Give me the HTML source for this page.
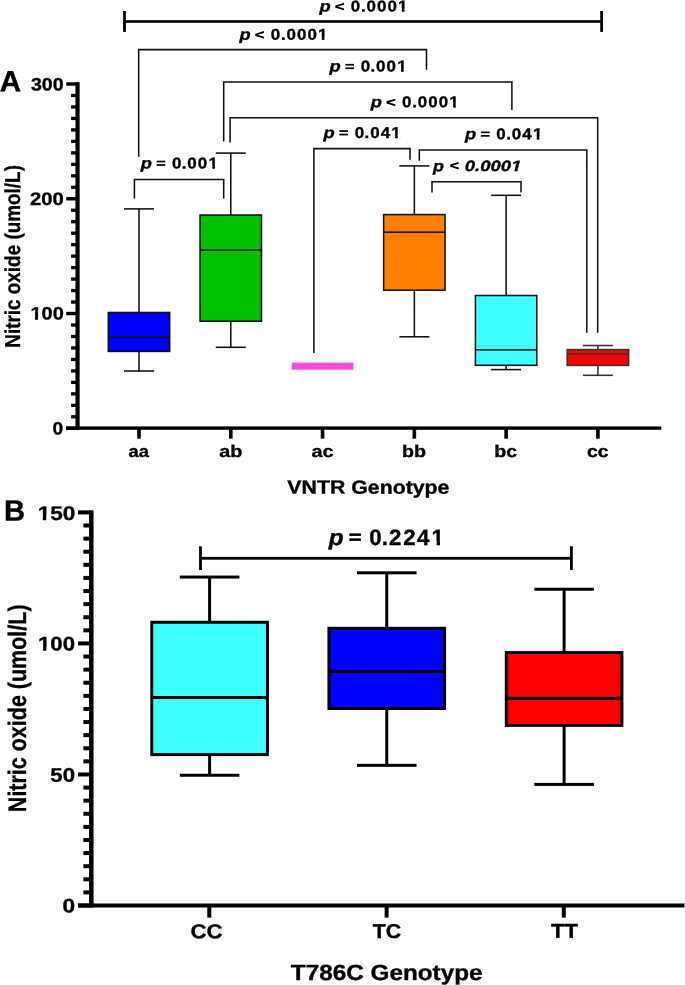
<!DOCTYPE html>
<html><head><meta charset="utf-8"><style>
html,body{margin:0;padding:0;background:#fff;}
svg{display:block;will-change:transform;font-family:"Liberation Sans",sans-serif;font-weight:bold;font-kerning:none;}
text{font-kerning:none;text-rendering:geometricPrecision;stroke:#000;stroke-width:0.35px;stroke-linejoin:round;}
</style></head><body>
<svg width="685" height="985" viewBox="0 0 685 985">
<rect width="685" height="985" fill="#fff"/>
<rect x="75.45" y="82.20" width="4.20" height="347.80" fill="#000"/>
<rect x="66.20" y="426.60" width="11.35" height="3.40" fill="#000"/>
<rect x="71.10" y="415.17" width="6.45" height="3.30" fill="#000"/>
<rect x="71.10" y="403.70" width="6.45" height="3.30" fill="#000"/>
<rect x="71.10" y="392.22" width="6.45" height="3.30" fill="#000"/>
<rect x="71.10" y="380.74" width="6.45" height="3.30" fill="#000"/>
<rect x="71.10" y="369.27" width="6.45" height="3.30" fill="#000"/>
<rect x="71.10" y="357.79" width="6.45" height="3.30" fill="#000"/>
<rect x="71.10" y="346.31" width="6.45" height="3.30" fill="#000"/>
<rect x="71.10" y="334.84" width="6.45" height="3.30" fill="#000"/>
<rect x="71.10" y="323.36" width="6.45" height="3.30" fill="#000"/>
<rect x="66.20" y="311.83" width="11.35" height="3.40" fill="#000"/>
<rect x="71.10" y="300.41" width="6.45" height="3.30" fill="#000"/>
<rect x="71.10" y="288.93" width="6.45" height="3.30" fill="#000"/>
<rect x="71.10" y="277.45" width="6.45" height="3.30" fill="#000"/>
<rect x="71.10" y="265.98" width="6.45" height="3.30" fill="#000"/>
<rect x="71.10" y="254.50" width="6.45" height="3.30" fill="#000"/>
<rect x="71.10" y="243.02" width="6.45" height="3.30" fill="#000"/>
<rect x="71.10" y="231.55" width="6.45" height="3.30" fill="#000"/>
<rect x="71.10" y="220.07" width="6.45" height="3.30" fill="#000"/>
<rect x="71.10" y="208.59" width="6.45" height="3.30" fill="#000"/>
<rect x="66.20" y="197.07" width="11.35" height="3.40" fill="#000"/>
<rect x="71.10" y="185.64" width="6.45" height="3.30" fill="#000"/>
<rect x="71.10" y="174.16" width="6.45" height="3.30" fill="#000"/>
<rect x="71.10" y="162.69" width="6.45" height="3.30" fill="#000"/>
<rect x="71.10" y="151.21" width="6.45" height="3.30" fill="#000"/>
<rect x="71.10" y="139.73" width="6.45" height="3.30" fill="#000"/>
<rect x="71.10" y="128.26" width="6.45" height="3.30" fill="#000"/>
<rect x="71.10" y="116.78" width="6.45" height="3.30" fill="#000"/>
<rect x="71.10" y="105.30" width="6.45" height="3.30" fill="#000"/>
<rect x="71.10" y="93.83" width="6.45" height="3.30" fill="#000"/>
<rect x="66.20" y="82.30" width="11.35" height="3.40" fill="#000"/>
<rect x="66.20" y="426.40" width="595.10" height="3.40" fill="#000"/>
<rect x="137.20" y="428.30" width="3.60" height="10.40" fill="#000"/>
<rect x="228.98" y="428.30" width="3.60" height="10.40" fill="#000"/>
<rect x="320.76" y="428.30" width="3.60" height="10.40" fill="#000"/>
<rect x="412.54" y="428.30" width="3.60" height="10.40" fill="#000"/>
<rect x="504.32" y="428.30" width="3.60" height="10.40" fill="#000"/>
<rect x="596.10" y="428.30" width="3.60" height="10.40" fill="#000"/>
<rect x="138.22" y="208.90" width="1.55" height="103.60" fill="#111"/>
<rect x="138.22" y="351.40" width="1.55" height="19.60" fill="#111"/>
<rect x="124.00" y="208.12" width="30.00" height="1.55" fill="#111"/>
<rect x="124.00" y="370.23" width="30.00" height="1.55" fill="#111"/>
<rect x="108.30" y="312.50" width="61.40" height="38.90" fill="#0000ff" stroke="#111" stroke-width="1.55"/>
<rect x="108.30" y="336.62" width="61.40" height="1.55" fill="#111"/>
<rect x="230.00" y="153.10" width="1.55" height="61.90" fill="#111"/>
<rect x="230.00" y="321.20" width="1.55" height="26.10" fill="#111"/>
<rect x="215.78" y="152.32" width="30.00" height="1.55" fill="#111"/>
<rect x="215.78" y="346.53" width="30.00" height="1.55" fill="#111"/>
<rect x="200.08" y="215.00" width="61.40" height="106.20" fill="#00c000" stroke="#111" stroke-width="1.55"/>
<rect x="200.08" y="249.32" width="61.40" height="1.55" fill="#111"/>
<rect x="291.71" y="362.70" width="61.70" height="7.00" fill="#f54cdc"/>
<rect x="413.57" y="165.90" width="1.55" height="48.70" fill="#111"/>
<rect x="413.57" y="290.20" width="1.55" height="46.60" fill="#111"/>
<rect x="399.34" y="165.12" width="30.00" height="1.55" fill="#111"/>
<rect x="399.34" y="336.03" width="30.00" height="1.55" fill="#111"/>
<rect x="383.64" y="214.60" width="61.40" height="75.60" fill="#ff8000" stroke="#111" stroke-width="1.55"/>
<rect x="383.64" y="231.42" width="61.40" height="1.55" fill="#111"/>
<rect x="505.35" y="195.30" width="1.55" height="100.20" fill="#111"/>
<rect x="505.35" y="365.30" width="1.55" height="4.30" fill="#111"/>
<rect x="491.12" y="194.53" width="30.00" height="1.55" fill="#111"/>
<rect x="491.12" y="368.83" width="30.00" height="1.55" fill="#111"/>
<rect x="475.42" y="295.50" width="61.40" height="69.80" fill="#40ffff" stroke="#111" stroke-width="1.55"/>
<rect x="475.42" y="349.03" width="61.40" height="1.55" fill="#111"/>
<rect x="597.12" y="345.50" width="1.55" height="4.10" fill="#333"/>
<rect x="597.12" y="365.40" width="1.55" height="9.90" fill="#333"/>
<rect x="582.90" y="344.73" width="30.00" height="1.55" fill="#333"/>
<rect x="582.90" y="374.53" width="30.00" height="1.55" fill="#333"/>
<rect x="567.20" y="349.60" width="61.40" height="15.80" fill="#ff0000" stroke="#333" stroke-width="1.55"/>
<rect x="567.20" y="353.20" width="61.40" height="1.60" fill="#333"/>
<rect x="124.50" y="20.20" width="477.10" height="2.60" fill="#000"/>
<rect x="123.10" y="11.00" width="2.80" height="20.90" fill="#000"/>
<rect x="600.20" y="11.00" width="2.80" height="20.90" fill="#000"/>
<path d="M138.70,156.70 V49.60 H426.50 V69.70" fill="none" stroke="#111" stroke-width="1.55" stroke-linejoin="miter" stroke-linecap="butt"/>
<path d="M223.70,141.50 V81.90 H511.90 V110.10" fill="none" stroke="#111" stroke-width="1.55" stroke-linejoin="miter" stroke-linecap="butt"/>
<path d="M230.10,142.50 V117.80 H597.70 V332.70" fill="none" stroke="#111" stroke-width="1.55" stroke-linejoin="miter" stroke-linecap="butt"/>
<path d="M313.90,353.00 V148.60 H410.00 V159.80" fill="none" stroke="#111" stroke-width="1.55" stroke-linejoin="miter" stroke-linecap="butt"/>
<path d="M419.30,160.80 V150.00 H586.80 V332.70" fill="none" stroke="#111" stroke-width="1.55" stroke-linejoin="miter" stroke-linecap="butt"/>
<path d="M432.00,192.50 V181.70 H521.00 V192.50" fill="none" stroke="#111" stroke-width="1.55" stroke-linejoin="miter" stroke-linecap="butt"/>
<path d="M134.40,198.40 V179.40 H223.70 V198.40" fill="none" stroke="#111" stroke-width="1.55" stroke-linejoin="miter" stroke-linecap="butt"/>
<g transform="translate(319.000,11.500) skewY(0.03) scale(1.1664,1)"><text font-size="15.7" fill="#000"><tspan x="0.345" style="font-style:italic;font-weight:bold;">p</tspan></text></g>
<g transform="translate(351.300,11.500) skewY(0.03) scale(1.0800,1)"><text font-size="15.7" fill="#000"><tspan x="-0.621" style="font-weight:bold;">0</tspan><tspan x="9.027" style="font-weight:bold;">.</tspan><tspan x="14.009" style="font-weight:bold;">0</tspan><tspan x="23.731" style="font-weight:bold;">0</tspan><tspan x="33.453" style="font-weight:bold;">0</tspan><tspan x="43.279" style="font-weight:bold;">1</tspan></text><path d="M43.317,1.917 V-2.683 H46.763 V1.917Z M49.277,1.917 V-2.683 H52.095 V1.917Z" fill="#fff"/></g>
<path d="M335.30,5.45 L344.00,2.85 L344.00,4.70 L337.64,6.60 L344.00,8.50 L344.00,10.35 L335.30,7.75Z" fill="#000"/>
<g transform="translate(239.000,39.700) skewY(0.03) scale(1.1664,1)"><text font-size="15.7" fill="#000"><tspan x="0.345" style="font-style:italic;font-weight:bold;">p</tspan></text></g>
<g transform="translate(271.300,39.700) skewY(0.03) scale(1.0800,1)"><text font-size="15.7" fill="#000"><tspan x="-0.621" style="font-weight:bold;">0</tspan><tspan x="9.027" style="font-weight:bold;">.</tspan><tspan x="14.009" style="font-weight:bold;">0</tspan><tspan x="23.731" style="font-weight:bold;">0</tspan><tspan x="33.453" style="font-weight:bold;">0</tspan><tspan x="43.279" style="font-weight:bold;">1</tspan></text><path d="M43.317,1.917 V-2.683 H46.763 V1.917Z M49.277,1.917 V-2.683 H52.095 V1.917Z" fill="#fff"/></g>
<path d="M255.30,33.65 L264.00,31.05 L264.00,32.90 L257.64,34.80 L264.00,36.70 L264.00,38.55 L255.30,35.95Z" fill="#000"/>
<g transform="translate(329.000,71.600) skewY(0.03) scale(1.1664,1)"><text font-size="15.7" fill="#000"><tspan x="0.345" style="font-style:italic;font-weight:bold;">p</tspan></text></g>
<g transform="translate(361.300,71.600) skewY(0.03) scale(1.0800,1)"><text font-size="15.7" fill="#000"><tspan x="-0.621" style="font-weight:bold;">0</tspan><tspan x="8.471" style="font-weight:bold;">.</tspan><tspan x="13.638" style="font-weight:bold;">0</tspan><tspan x="23.361" style="font-weight:bold;">0</tspan><tspan x="33.279" style="font-weight:bold;">1</tspan></text><path d="M33.317,1.917 V-2.683 H36.763 V1.917Z M39.277,1.917 V-2.683 H42.095 V1.917Z" fill="#fff"/></g>
<rect x="345.30" y="63.90" width="8.70" height="1.70" fill="#000"/>
<rect x="345.30" y="67.40" width="8.70" height="1.70" fill="#000"/>
<g transform="translate(370.300,107.300) skewY(0.03) scale(1.1664,1)"><text font-size="15.7" fill="#000"><tspan x="0.345" style="font-style:italic;font-weight:bold;">p</tspan></text></g>
<g transform="translate(402.600,107.300) skewY(0.03) scale(1.0800,1)"><text font-size="15.7" fill="#000"><tspan x="-0.621" style="font-weight:bold;">0</tspan><tspan x="9.027" style="font-weight:bold;">.</tspan><tspan x="14.009" style="font-weight:bold;">0</tspan><tspan x="23.731" style="font-weight:bold;">0</tspan><tspan x="33.453" style="font-weight:bold;">0</tspan><tspan x="43.279" style="font-weight:bold;">1</tspan></text><path d="M43.317,1.917 V-2.683 H46.763 V1.917Z M49.277,1.917 V-2.683 H52.095 V1.917Z" fill="#fff"/></g>
<path d="M386.60,101.25 L395.30,98.65 L395.30,100.50 L388.94,102.40 L395.30,104.30 L395.30,106.15 L386.60,103.55Z" fill="#000"/>
<g transform="translate(323.000,137.900) skewY(0.03) scale(1.1664,1)"><text font-size="15.7" fill="#000"><tspan x="0.345" style="font-style:italic;font-weight:bold;">p</tspan></text></g>
<g transform="translate(355.300,137.900) skewY(0.03) scale(1.0800,1)"><text font-size="15.7" fill="#000"><tspan x="-0.621" style="font-weight:bold;">0</tspan><tspan x="8.564" style="font-weight:bold;">.</tspan><tspan x="13.823" style="font-weight:bold;">0</tspan><tspan x="23.559" style="font-weight:bold;">4</tspan><tspan x="33.371" style="font-weight:bold;">1</tspan></text><path d="M33.410,1.917 V-2.683 H36.856 V1.917Z M39.370,1.917 V-2.683 H42.187 V1.917Z" fill="#fff"/></g>
<rect x="339.30" y="130.20" width="8.70" height="1.70" fill="#000"/>
<rect x="339.30" y="133.70" width="8.70" height="1.70" fill="#000"/>
<g transform="translate(464.600,139.200) skewY(0.03) scale(1.1664,1)"><text font-size="15.7" fill="#000"><tspan x="0.345" style="font-style:italic;font-weight:bold;">p</tspan></text></g>
<g transform="translate(496.900,139.200) skewY(0.03) scale(1.0800,1)"><text font-size="15.7" fill="#000"><tspan x="-0.621" style="font-weight:bold;">0</tspan><tspan x="8.564" style="font-weight:bold;">.</tspan><tspan x="13.823" style="font-weight:bold;">0</tspan><tspan x="23.559" style="font-weight:bold;">4</tspan><tspan x="33.371" style="font-weight:bold;">1</tspan></text><path d="M33.410,1.917 V-2.683 H36.856 V1.917Z M39.370,1.917 V-2.683 H42.187 V1.917Z" fill="#fff"/></g>
<rect x="480.90" y="131.50" width="8.70" height="1.70" fill="#000"/>
<rect x="480.90" y="135.00" width="8.70" height="1.70" fill="#000"/>
<g transform="translate(140.300,168.400) skewY(0.03) scale(1.1664,1)"><text font-size="15.7" fill="#000"><tspan x="0.345" style="font-style:italic;font-weight:bold;">p</tspan></text></g>
<g transform="translate(172.600,168.400) skewY(0.03) scale(1.0800,1)"><text font-size="15.7" fill="#000"><tspan x="-0.621" style="font-weight:bold;">0</tspan><tspan x="8.471" style="font-weight:bold;">.</tspan><tspan x="13.638" style="font-weight:bold;">0</tspan><tspan x="23.361" style="font-weight:bold;">0</tspan><tspan x="33.279" style="font-weight:bold;">1</tspan></text><path d="M33.317,1.917 V-2.683 H36.763 V1.917Z M39.277,1.917 V-2.683 H42.095 V1.917Z" fill="#fff"/></g>
<rect x="156.60" y="160.70" width="8.70" height="1.70" fill="#000"/>
<rect x="156.60" y="164.20" width="8.70" height="1.70" fill="#000"/>
<g transform="translate(432.600,171.200) skewY(0.03) scale(1.1600,1)"><text font-size="15.5" fill="#000"><tspan x="0.341" style="font-style:italic;font-weight:bold;">p</tspan></text></g>
<path d="M450.20,164.55 L458.70,161.95 L458.70,163.80 L452.49,165.70 L458.70,167.60 L458.70,169.45 L450.20,166.85Z" fill="#000"/>
<g transform="translate(464.731,170.900) skewY(0.03) scale(1.2360,1)"><text font-size="15.0" fill="#000"><tspan x="0.000" style="font-style:italic;font-weight:bold;">0.0001</tspan></text><path d="M37.097,1.831 L37.646,-2.637 L40.528,-2.637 L40.001,1.831Z M42.477,1.831 L43.019,-2.637 L45.959,-2.637 L45.410,1.831Z" fill="#fff"/></g>
<g transform="translate(328.100,545.000) skewY(0.03) scale(1.0900,1)"><text font-size="22.3" fill="#000"><tspan x="0.490" style="font-style:italic;font-weight:bold;">p</tspan></text></g>
<g transform="translate(370.100,545.000) skewY(0.03) scale(1.0000,1)"><text font-size="22.3" fill="#000"><tspan x="-0.882" style="font-weight:bold;">0</tspan><tspan x="11.686" style="font-weight:bold;">.</tspan><tspan x="19.027" style="font-weight:bold;">2</tspan><tspan x="33.127" style="font-weight:bold;">2</tspan><tspan x="46.962" style="font-weight:bold;">4</tspan><tspan x="61.476" style="font-weight:bold;">1</tspan></text><path d="M61.530,2.722 V-3.811 H66.500 V2.722Z M69.920,2.722 V-3.811 H73.998 V2.722Z" fill="#fff"/></g>
<rect x="349.30" y="533.40" width="11.60" height="2.50" fill="#000"/>
<rect x="349.30" y="538.40" width="11.60" height="2.50" fill="#000"/>
<g transform="translate(-0.135,91.300) skewY(0.03) scale(1.0073,1)"><text font-size="29.3" fill="#000"><tspan x="0.000" style="font-weight:bold;">A</tspan></text></g>
<g transform="translate(30.951,90.500) skewY(0.03) scale(1.0872,1)"><text font-size="18" fill="#000"><tspan x="0.000" style="font-weight:bold;">300</tspan></text></g>
<g transform="translate(30.099,205.000) skewY(0.03) scale(1.1231,1)"><text font-size="18" fill="#000"><tspan x="0.000" style="font-weight:bold;">200</tspan></text></g>
<g transform="translate(30.432,319.600) skewY(0.03) scale(1.1118,1)"><text font-size="18" fill="#000"><tspan x="0.000" style="font-weight:bold;">100</tspan></text><path d="M0.044,2.197 V-3.076 H4.021 V2.197Z M6.851,2.197 V-3.076 H10.107 V2.197Z" fill="#fff"/></g>
<g transform="translate(52.543,434.500) skewY(0.03) scale(1.0630,1)"><text font-size="18" fill="#000"><tspan x="0.000" style="font-weight:bold;">0</tspan></text></g>
<g transform="translate(128.462,457.100) skewY(0.03) scale(1.0928,1)"><text font-size="16.8" fill="#000"><tspan x="0.000" style="font-weight:bold;">aa</tspan></text></g>
<g transform="translate(219.350,457.100) skewY(0.03) scale(1.1778,1)"><text font-size="16.8" fill="#000"><tspan x="0.000" style="font-weight:bold;">ab</tspan></text></g>
<g transform="translate(311.529,457.100) skewY(0.03) scale(1.1806,1)"><text font-size="16.8" fill="#000"><tspan x="0.000" style="font-weight:bold;">ac</tspan></text></g>
<g transform="translate(402.095,457.100) skewY(0.03) scale(1.1694,1)"><text font-size="16.8" fill="#000"><tspan x="0.000" style="font-weight:bold;">bb</tspan></text></g>
<g transform="translate(494.328,457.100) skewY(0.03) scale(1.1663,1)"><text font-size="16.8" fill="#000"><tspan x="0.000" style="font-weight:bold;">bc</tspan></text></g>
<g transform="translate(586.937,457.100) skewY(0.03) scale(1.1632,1)"><text font-size="16.8" fill="#000"><tspan x="0.000" style="font-weight:bold;">cc</tspan></text></g>
<g transform="translate(287.354,493.600) skewY(0.03) scale(1.1206,1)"><text font-size="19" fill="#000"><tspan x="0.000" style="font-weight:bold;">VNTR Genotype</tspan></text></g>
<text transform="translate(19.900,347.764) rotate(-90) skewY(0.03) scale(0.8791,1)" font-size="21.5" fill="#000"><tspan x="0.000" style="font-weight:bold;">Nitric oxide (umol/L)</tspan></text>
<rect x="89.05" y="510.40" width="4.50" height="397.10" fill="#000"/>
<rect x="78.00" y="903.50" width="13.30" height="4.00" fill="#000"/>
<rect x="83.40" y="890.40" width="7.90" height="4.00" fill="#000"/>
<rect x="83.40" y="877.29" width="7.90" height="4.00" fill="#000"/>
<rect x="83.40" y="864.19" width="7.90" height="4.00" fill="#000"/>
<rect x="83.40" y="851.09" width="7.90" height="4.00" fill="#000"/>
<rect x="83.40" y="837.98" width="7.90" height="4.00" fill="#000"/>
<rect x="83.40" y="824.88" width="7.90" height="4.00" fill="#000"/>
<rect x="83.40" y="811.78" width="7.90" height="4.00" fill="#000"/>
<rect x="83.40" y="798.67" width="7.90" height="4.00" fill="#000"/>
<rect x="83.40" y="785.57" width="7.90" height="4.00" fill="#000"/>
<rect x="78.00" y="772.47" width="13.30" height="4.00" fill="#000"/>
<rect x="83.40" y="759.36" width="7.90" height="4.00" fill="#000"/>
<rect x="83.40" y="746.26" width="7.90" height="4.00" fill="#000"/>
<rect x="83.40" y="733.16" width="7.90" height="4.00" fill="#000"/>
<rect x="83.40" y="720.05" width="7.90" height="4.00" fill="#000"/>
<rect x="83.40" y="706.95" width="7.90" height="4.00" fill="#000"/>
<rect x="83.40" y="693.85" width="7.90" height="4.00" fill="#000"/>
<rect x="83.40" y="680.74" width="7.90" height="4.00" fill="#000"/>
<rect x="83.40" y="667.64" width="7.90" height="4.00" fill="#000"/>
<rect x="83.40" y="654.54" width="7.90" height="4.00" fill="#000"/>
<rect x="78.00" y="641.43" width="13.30" height="4.00" fill="#000"/>
<rect x="83.40" y="628.33" width="7.90" height="4.00" fill="#000"/>
<rect x="83.40" y="615.23" width="7.90" height="4.00" fill="#000"/>
<rect x="83.40" y="602.12" width="7.90" height="4.00" fill="#000"/>
<rect x="83.40" y="589.02" width="7.90" height="4.00" fill="#000"/>
<rect x="83.40" y="575.92" width="7.90" height="4.00" fill="#000"/>
<rect x="83.40" y="562.81" width="7.90" height="4.00" fill="#000"/>
<rect x="83.40" y="549.71" width="7.90" height="4.00" fill="#000"/>
<rect x="83.40" y="536.61" width="7.90" height="4.00" fill="#000"/>
<rect x="83.40" y="523.50" width="7.90" height="4.00" fill="#000"/>
<rect x="78.00" y="510.40" width="13.30" height="4.00" fill="#000"/>
<rect x="78.00" y="903.50" width="606.50" height="4.00" fill="#000"/>
<rect x="207.30" y="905.50" width="4.00" height="12.10" fill="#000"/>
<rect x="384.60" y="905.50" width="4.00" height="12.10" fill="#000"/>
<rect x="561.80" y="905.50" width="4.00" height="12.10" fill="#000"/>
<rect x="208.10" y="577.05" width="3.00" height="45.20" fill="#000"/>
<rect x="208.10" y="754.60" width="3.00" height="20.65" fill="#000"/>
<rect x="179.80" y="575.55" width="59.60" height="3.00" fill="#000"/>
<rect x="179.80" y="773.75" width="59.60" height="3.00" fill="#000"/>
<rect x="151.80" y="622.25" width="115.60" height="132.35" fill="#40ffff" stroke="#000" stroke-width="3.0"/>
<rect x="151.80" y="696.00" width="115.60" height="3.00" fill="#000"/>
<rect x="385.25" y="572.80" width="3.00" height="55.50" fill="#000"/>
<rect x="385.25" y="708.50" width="3.00" height="56.85" fill="#000"/>
<rect x="356.95" y="571.30" width="59.60" height="3.00" fill="#000"/>
<rect x="356.95" y="763.85" width="59.60" height="3.00" fill="#000"/>
<rect x="328.95" y="628.30" width="115.60" height="80.20" fill="#0000ff" stroke="#000" stroke-width="3.0"/>
<rect x="328.95" y="670.10" width="115.60" height="3.00" fill="#000"/>
<rect x="562.60" y="589.25" width="3.00" height="63.35" fill="#000"/>
<rect x="562.60" y="725.40" width="3.00" height="59.00" fill="#000"/>
<rect x="534.30" y="587.75" width="59.60" height="3.00" fill="#000"/>
<rect x="534.30" y="782.90" width="59.60" height="3.00" fill="#000"/>
<rect x="506.30" y="652.60" width="115.60" height="72.80" fill="#ff0000" stroke="#000" stroke-width="3.0"/>
<rect x="506.30" y="696.85" width="115.60" height="3.00" fill="#000"/>
<rect x="200.50" y="556.90" width="370.90" height="2.80" fill="#000"/>
<rect x="199.10" y="546.30" width="2.80" height="23.70" fill="#000"/>
<rect x="570.00" y="546.30" width="2.80" height="23.70" fill="#000"/>
<g transform="translate(4.048,520.600) skewY(0.03) scale(0.9996,1)"><text font-size="29.2" fill="#000"><tspan x="0.000" style="font-weight:bold;">B</tspan></text></g>
<g transform="translate(37.652,520.000) skewY(0.03) scale(1.1435,1)"><text font-size="19.8" fill="#000"><tspan x="0.000" style="font-weight:bold;">150</tspan></text><path d="M0.048,2.417 V-3.384 H4.441 V2.417Z M7.518,2.417 V-3.384 H11.118 V2.417Z" fill="#fff"/></g>
<g transform="translate(37.983,650.600) skewY(0.03) scale(1.1208,1)"><text font-size="19.8" fill="#000"><tspan x="0.000" style="font-weight:bold;">100</tspan></text><path d="M0.048,2.417 V-3.384 H4.441 V2.417Z M7.518,2.417 V-3.384 H11.118 V2.417Z" fill="#fff"/></g>
<g transform="translate(50.317,781.700) skewY(0.03) scale(1.1212,1)"><text font-size="19.8" fill="#000"><tspan x="0.000" style="font-weight:bold;">50</tspan></text></g>
<g transform="translate(62.402,912.600) skewY(0.03) scale(1.1469,1)"><text font-size="19.8" fill="#000"><tspan x="0.000" style="font-weight:bold;">0</tspan></text></g>
<g transform="translate(190.488,938.200) skewY(0.03) scale(1.1119,1)"><text font-size="20" fill="#000"><tspan x="0.000" style="font-weight:bold;">CC</tspan></text></g>
<g transform="translate(372.760,938.000) skewY(0.03) scale(1.0700,1)"><text font-size="20" fill="#000"><tspan x="0.000" style="font-weight:bold;">TC</tspan></text></g>
<g transform="translate(551.052,937.800) skewY(0.03) scale(1.1044,1)"><text font-size="20" fill="#000"><tspan x="0.000" style="font-weight:bold;">TT</tspan></text></g>
<g transform="translate(290.827,979.900) skewY(0.03) scale(1.1043,1)"><text font-size="22" fill="#000"><tspan x="0.000" style="font-weight:bold;">T786C Genotype</tspan></text></g>
<text transform="translate(25.700,812.137) rotate(-90) skewY(0.03) scale(0.8493,1)" font-size="25.3" fill="#000"><tspan x="0.000" style="font-weight:bold;">Nitric oxide (umol/L)</tspan></text>
</svg>
</body></html>
